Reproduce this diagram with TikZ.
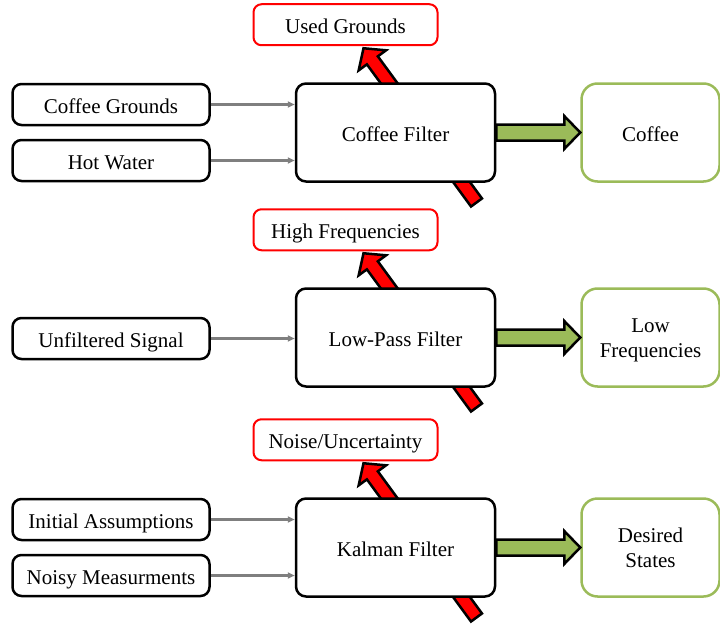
\documentclass[tikz,border=0pt]{standalone}
\usepackage{fontspec}
\setmainfont{Liberation Serif}
\usepackage{xcolor}
\usepackage{tikz}
\usetikzlibrary{arrows.meta,positioning,calc,backgrounds}
\definecolor{leafgreen}{HTML}{9BBB59}
\definecolor{feedgray}{HTML}{7F7F7F}
\tikzset{
  every node/.style={font=\fontsize{21}{25}\selectfont},
  filter/.style={draw, rectangle, rounded corners=10pt, line width=2.5pt, fill=white, align=center, text height=17.5pt, text depth=0pt, minimum width=199pt, minimum height=98pt},
  inbox/.style={draw, rectangle, rounded corners=9pt, line width=2.5pt, align=center, text height=17.5pt, text depth=0pt, minimum width=197pt, minimum height=41pt},
  outbox/.style={draw=red, rectangle, rounded corners=8pt, line width=2pt, fill=white, align=center, text height=17.5pt, text depth=0pt, minimum width=184pt, minimum height=41pt},
  result/.style={draw=leafgreen, rectangle, rounded corners=16pt, line width=2.5pt, align=center, text height=17.5pt, text depth=0pt, minimum width=138pt, minimum height=98pt},
  tworow/.style={text height=39pt, text depth=0pt},
  feed/.style={-{Triangle[length=7pt,width=6pt]}, draw=feedgray, line width=2.2pt},
  fatline/.style={draw=black, line width=2.5pt, line join=miter}
}
% block arrow: tail, tip, fill, half shaft, half head, head length
\newcommand{\fatarrow}[6]{%
  \coordinate (fa-h) at ($(#2)!#6!(#1)$);
  \draw[fatline, fill=#3] ($(#1)!#4!90:(#2)$) -- ($(fa-h)!#4!90:(#2)$) -- ($(fa-h)!#5!90:(#2)$) -- (#2)
    -- ($(fa-h)!#5!-90:(#2)$) -- ($(fa-h)!#4!-90:(#2)$) -- ($(#1)!#4!-90:(#2)$) -- cycle;
}
\begin{document}
\begin{tikzpicture}[x=1pt, y=-1pt]
\useasboundingbox (0,0) rectangle (720,626);

% Filters, one per row
\node[filter] (cf) at (395.5,132.5) {Coffee Filter};
\node[filter] (lpf) at (395.5,337.5) {Low-Pass Filter};
\node[filter] (kf) at (395.5,547.5) {Kalman Filter};

% Inputs on the left
\node[inbox, left=84pt of cf.west, yshift=28pt] (grounds) {Coffee Grounds};
\node[inbox, left=84pt of cf.west, yshift=-28pt] (water) {Hot Water};
\node[inbox, left=84pt of lpf.west, yshift=-1pt] (signal) {Unfiltered Signal};
\node[inbox, left=84pt of kf.west, yshift=28pt] (assume) {Initial Assumptions};
\node[inbox, left=84pt of kf.west, yshift=-28pt] (noisy) {Noisy Measurments};

% What the filter throws away
\node[outbox, above=36pt of cf.north, xshift=-50pt] (used) {Used Grounds};
\node[outbox, above=36pt of lpf.north, xshift=-50pt] (high) {High Frequencies};
\node[outbox, above=36pt of kf.north, xshift=-50pt] (noise) {Noise/Uncertainty};

% What comes through
\node[result, right=84pt of cf.east] (coffee) {Coffee};
\node[result, tworow, right=84pt of lpf.east] (low) {Low\\Frequencies};
\node[result, tworow, right=84pt of kf.east] (states) {Desired\\States};

% Input arrows
\draw[feed] (grounds.east) -- (grounds.east -| cf.west);
\draw[feed] (water.east) -- (water.east -| cf.west);
\draw[feed] (signal.east) -- (signal.east -| lpf.west);
\draw[feed] (assume.east) -- (assume.east -| kf.west);
\draw[feed] (noisy.east) -- (noisy.east -| kf.west);

% Red arrows start behind the filter box
\coordinate (cf-tail) at ([shift={(81pt,-70pt)}]cf.center);
\coordinate (lpf-tail) at ([shift={(81pt,-70pt)}]lpf.center);
\coordinate (kf-tail) at ([shift={(81pt,-70pt)}]kf.center);
\coordinate (used-tip) at ([shift={(18pt,-2pt)}]used.south);
\coordinate (high-tip) at ([shift={(18pt,-2pt)}]high.south);
\coordinate (noise-tip) at ([shift={(18pt,-2pt)}]noise.south);
\begin{scope}[on background layer]
\fatarrow{cf-tail}{used-tip}{red}{6.8pt}{17pt}{15pt}
\fatarrow{lpf-tail}{high-tip}{red}{6.8pt}{17pt}{15pt}
\fatarrow{kf-tail}{noise-tip}{red}{6.8pt}{17pt}{15pt}
\end{scope}

% Green output arrows
\fatarrow{cf.east}{coffee.west}{leafgreen}{8pt}{16.5pt}{16pt}
\fatarrow{lpf.east}{low.west}{leafgreen}{8pt}{16.5pt}{16pt}
\fatarrow{kf.east}{states.west}{leafgreen}{8pt}{16.5pt}{16pt}

\end{tikzpicture}
\end{document}
